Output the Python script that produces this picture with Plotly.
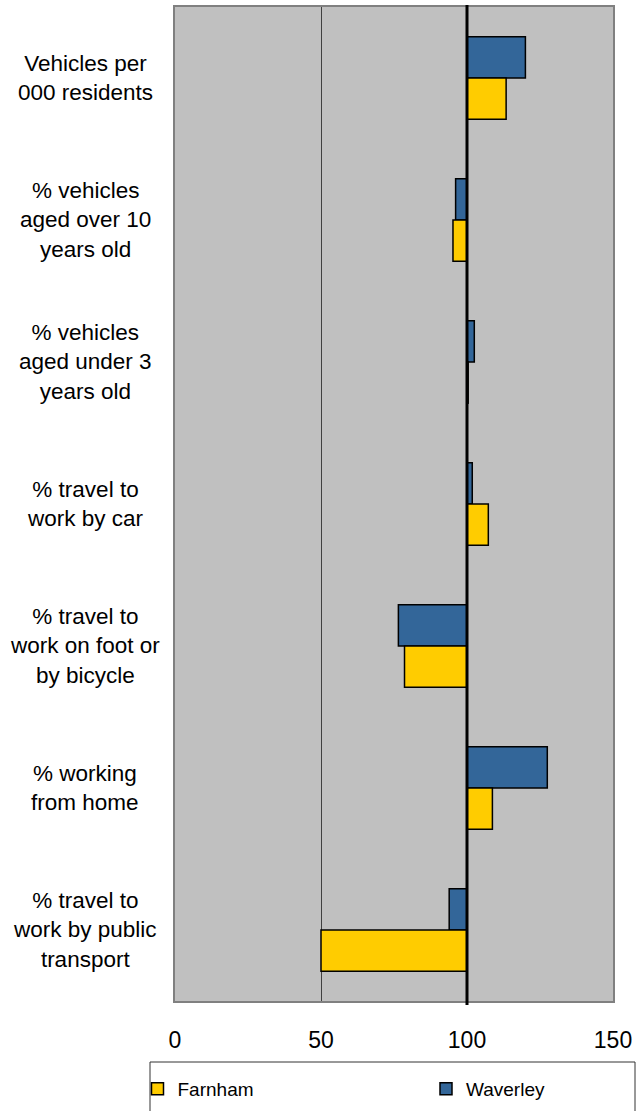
import plotly.graph_objects as go

categories = [
    "Vehicles per<br>000 residents",
    "% vehicles<br>aged over 10<br>years old",
    "% vehicles<br>aged under 3<br>years old",
    "% travel to<br>work by car",
    "% travel to<br>work on foot or<br>by bicycle",
    "% working<br>from home",
    "% travel to<br>work by public<br>transport",
]
farnham = [113.4, 95.2, 100.4, 107.3, 78.6, 108.7, 50.0]
waverley = [120.0, 96.1, 102.5, 101.8, 76.5, 127.5, 93.9]
x_ticks = [0, 50, 100, 150]
baseline = 100

FONT = "Liberation Sans, Arial, sans-serif"
W, H = 636, 1111
ML, MR, MT, MB = 175, 23, 7, 110
PW = W - ML - MR
PH = H - MT - MB


def px_x(p):
    return (p - ML) / PW


def px_y(p):
    return (H - MB - p) / PH


fig = go.Figure()
fig.add_trace(go.Bar(
    name="Waverley", y=categories, x=[v - baseline for v in waverley], base=baseline,
    orientation="h", marker=dict(color="#336699", line=dict(color="black", width=1.5)),
    legend="legend2",
))
fig.add_trace(go.Bar(
    name="Farnham", y=categories, x=[v - baseline for v in farnham], base=baseline,
    orientation="h", marker=dict(color="#FFCC00", line=dict(color="black", width=1.5)),
    legend="legend",
))

# category labels (centered multi-line)
for c in categories:
    fig.add_annotation(x=px_x(85), xref="paper", y=c, yref="y", text=c,
                       showarrow=False, xanchor="center", yanchor="middle", align="center",
                       font=dict(family=FONT, size=22.5, color="black"))

# line at 100
fig.add_shape(type="line", xref="x", yref="paper", x0=baseline, x1=baseline,
              y0=px_y(1005), y1=px_y(5), line=dict(color="black", width=3), layer="above")

# legend box
fig.add_shape(type="rect", xref="paper", yref="paper", x0=px_x(150), x1=px_x(635),
              y0=px_y(1062), y1=px_y(1125), line=dict(color="#333333", width=1))

leg_common = dict(orientation="h", xanchor="left", yanchor="middle", y=px_y(1089),
                  font=dict(family=FONT, size=19, color="black"), bgcolor="rgba(0,0,0,0)")

fig.update_layout(
    width=W, height=H,
    margin=dict(l=ML, r=MR, t=MT, b=MB, pad=0, autoexpand=False),
    paper_bgcolor="white", plot_bgcolor="#C0C0C0",
    barmode="group", bargap=0.42, bargroupgap=0,
    font=dict(family=FONT, color="black"),
    showlegend=True,
    legend=dict(x=px_x(137.5), **leg_common),
    legend2=dict(x=px_x(426), **leg_common),
    xaxis=dict(range=[0, 150], tickvals=x_ticks, ticktext=[str(t) for t in x_ticks],
               showgrid=True, gridcolor="#404040", gridwidth=1, zeroline=False,
               ticks="outside", ticklen=17, tickcolor="rgba(0,0,0,0)",
               tickfont=dict(family=FONT, size=23, color="black"), automargin=False,
               showline=True, linecolor="#808080", linewidth=2, mirror=True),
    yaxis=dict(autorange="reversed", showticklabels=False, showgrid=False, zeroline=False,
               automargin=False,
               showline=True, linecolor="#808080", linewidth=2, mirror=True, ticks=""),
)

fig.write_html("out.html", config={"displayModeBar": False},
               post_script="document.body.style.margin='0';")
